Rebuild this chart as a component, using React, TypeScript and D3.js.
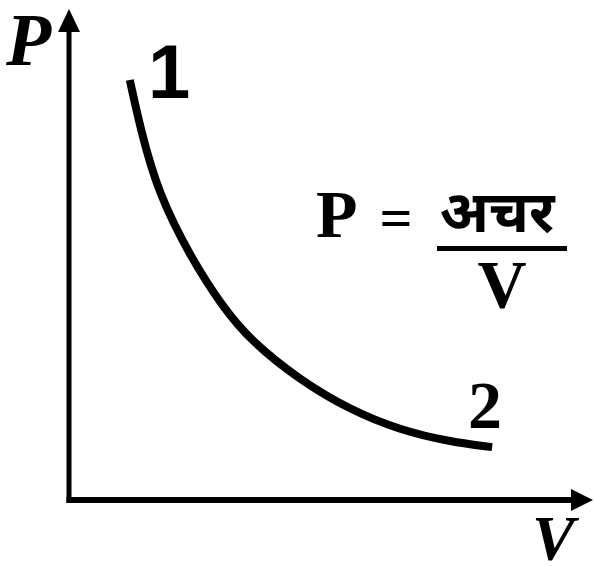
import React from "react";
import * as d3 from "d3";

const volumes = [1.19, 1.39, 1.74, 2.41, 3.01, 3.54, 4.52, 5.5, 6.48, 7.46, 8.28];
const pressures = [8.66, 7.69, 6.33, 4.95, 3.98, 3.3, 2.47, 1.86, 1.44, 1.2, 1.09];
const axisLabels = ["P", "V"];
const pointLabels = ["1", "2"];
const formulaParts = ["P", "=", "अचर", "V"];

const W = 594;
const H = 566;

export default function App() {
  const x = d3.scaleLinear().domain([0, 10]).range([69, 580]);
  const y = d3.scaleLinear().domain([0, 10]).range([500, 15]);
  const pts: [number, number][] = volumes.map((v, i) => [x(v), y(pressures[i])]);
  const line = d3.line().curve(d3.curveBasis)(pts) || "";
  const x0 = x(0);
  const y0 = y(0);
  const serif = "'Liberation Serif', 'DejaVu Serif', serif";
  return (
    <svg width={W} height={H} style={{ position: "absolute", left: 0, top: 0, background: "#fff" }}>
      <rect width={W} height={H} fill="#fff" />
      {/* axes */}
      <line x1={x0} y1={y0 + 3} x2={x0} y2={22} stroke="#000" strokeWidth={5} />
      <line x1={x0 - 2.5} y1={y0} x2={580} y2={y0} stroke="#000" strokeWidth={6} />
      <path d={`M${x0},9 L${x0 + 11},32 L${x0 - 11},32 Z`} fill="#000" />
      <path d={`M593,${y0} L571,${y0 - 11} L571,${y0 + 11} Z`} fill="#000" />
      {/* curve */}
      <path d={line} fill="none" stroke="#000" strokeWidth={8} strokeLinecap="butt" />
      {/* axis labels */}
      <text x={6} y={65} fontFamily={serif} fontStyle="italic" fontWeight="bold" fontSize={74}>{axisLabels[0]}</text>
      <text x={532} y={560} fontFamily={serif} fontStyle="italic" fontWeight="bold" fontSize={64}>{axisLabels[1]}</text>
      {/* point labels */}
      <text x={148} y={98} fontFamily="'Liberation Sans', sans-serif" fontWeight="bold" fontSize={76}>{pointLabels[0]}</text>
      <text x={468} y={428} fontFamily={serif} fontWeight="bold" fontSize={68}>{pointLabels[1]}</text>
      {/* formula */}
      <text x={316} y={237} fontFamily={serif} fontWeight="bold" fontSize={68}>{formulaParts[0]}</text>
      <text x={396} y={237} textAnchor="middle" fontFamily={serif} fontWeight="bold" fontSize={58}>{formulaParts[1]}</text>
      <text x={497} y={232} textAnchor="middle" fontFamily="'Noto Sans', sans-serif" fontWeight="bold" fontSize={58}>{formulaParts[2]}</text>
      <line x1={437} y1={248.5} x2={567} y2={248.5} stroke="#000" strokeWidth={5} />
      <text x={502} y={307} textAnchor="middle" fontFamily={serif} fontWeight="bold" fontSize={68}>{formulaParts[3]}</text>
    </svg>
  );
}
